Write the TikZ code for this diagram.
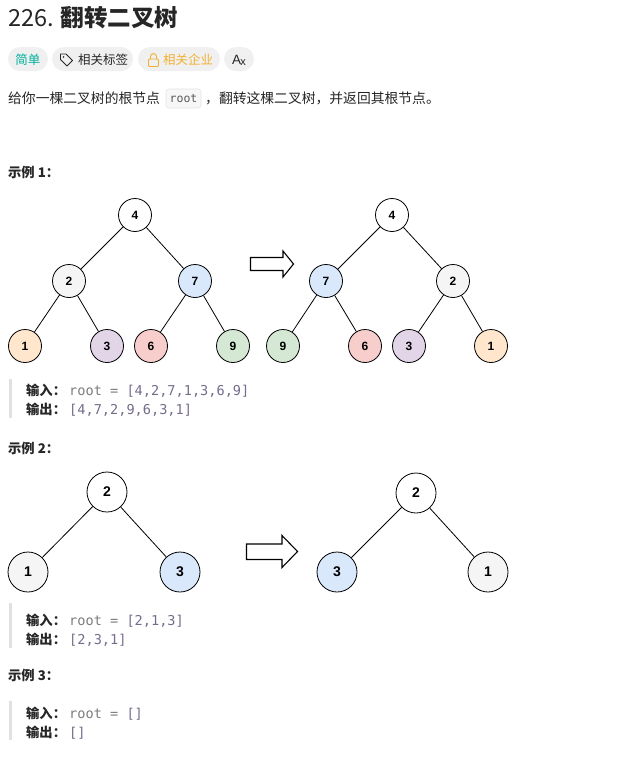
\documentclass[tikz,border=0pt]{standalone}
\usepackage{fontspec}
\setmainfont{Noto Sans CJK SC}
\newfontfamily\lat{Liberation Sans}
\newfontfamily\monof{DejaVu Sans Mono}
\definecolor{pillbg}{RGB}{240,240,240}
\definecolor{easyc}{RGB}{0,175,155}
\definecolor{orangec}{RGB}{240,176,48}
\definecolor{cgray}{RGB}{245,245,245}
\definecolor{cblue}{RGB}{218,232,252}
\definecolor{corange}{RGB}{255,230,204}
\definecolor{cpurple}{RGB}{225,213,231}
\definecolor{cred}{RGB}{248,206,204}
\definecolor{cgreen}{RGB}{213,232,212}
\definecolor{txt}{RGB}{38,38,38}
\definecolor{codegray}{RGB}{125,125,125}
\definecolor{arrc}{RGB}{118,108,140}
\definecolor{barc}{RGB}{225,225,225}
\definecolor{codebg}{RGB}{247,247,248}
\definecolor{codeborder}{RGB}{228,228,230}
\tikzset{
  tn/.style={circle, draw=black, line width=0.8pt, minimum size=33pt, inner sep=0pt, font=\lat\bfseries\fontsize{12}{12}\selectfont},
  tnb/.style={circle, draw=black, line width=0.8pt, minimum size=40pt, inner sep=0pt, font=\lat\bfseries\fontsize{14}{14}\selectfont},
  edge/.style={line width=0.8pt, black},
  txtnode/.style={anchor=base west, inner sep=0pt, text=txt, font=\fontsize{13.8}{16}\selectfont},
  boldtxt/.style={anchor=base west, inner sep=0pt, text=txt, font=\bfseries\fontsize{13.3}{16}\selectfont},
  codetxt/.style={anchor=base west, inner sep=0pt, font=\monof\fontsize{13.6}{16}\selectfont},
  pill/.style={fill=pillbg, rounded corners=12pt, draw=none},
  bararea/.style={fill=barc, draw=none},
  blockarrow/.style={draw=black, fill=white, line width=1.1pt, line join=miter}
}
\begin{document}
\begin{tikzpicture}[x=1pt, y=-1pt]
\useasboundingbox[fill=white] (0,0) rectangle (622,758);

% title
\node[anchor=base west, inner sep=0pt, text=txt, font=\fontsize{23.5}{26}\selectfont] (title) at (8,26.5) {226. \textbf{翻转二叉树}};

% pills
\fill[pill] (8,47) rectangle (48,71);
\node[anchor=base, inner sep=0pt, text=easyc, font=\fontsize{12.5}{14}\selectfont] (easy) at (28,64) {简单};
\fill[pill] (52,47) rectangle (133,71);
\draw[line width=0.9pt, txt, line join=round] (60.5,54) -- (66,54) -- (72.5,60.5) -- (67,66) -- (60.5,59.5) -- cycle;
\fill[txt] (63.5,57) circle (0.9pt);
\node[anchor=base west, inner sep=0pt, text=txt, font=\fontsize{12.5}{14}\selectfont] (tags) at (78,64) {相关标签};
\fill[pill] (138,47) rectangle (220,71);
\draw[line width=0.9pt, orangec, rounded corners=1pt] (148.5,59) rectangle (158.5,66.5);
\draw[line width=0.9pt, orangec] (150.5,59) -- (150.5,56.5) arc (180:0:3pt) -- (156.5,59);
\node[anchor=base west, inner sep=0pt, text=orangec, font=\fontsize{12.5}{14}\selectfont] (comp) at (163,64) {相关企业};
\fill[pill] (224,47) rectangle (254,71);
\node[anchor=base, inner sep=0pt, text=txt, font=\lat\fontsize{13.5}{14}\selectfont] (ax) at (239,64.5) {A\kern-0.8pt\raisebox{-0.5pt}{\fontsize{11}{11}\selectfont x}};

% description
\node[txtnode] (desc1) at (8,103) {给你一棵二叉树的根节点};
\draw[fill=codebg, draw=codeborder, line width=0.6pt, rounded corners=3pt] (166,89) rectangle (201,108);
\node[anchor=base, inner sep=0pt, text=black!65, font=\monof\fontsize{11.5}{14}\selectfont] (rootcode) at (183.5,102) {root};
\node[txtnode] (desc2) at (205,103) {，翻转这棵二叉树，并返回其根节点。};

% example 1
\node[boldtxt] (ex1) at (8,177) {示例 1：};

\node[tn, fill=white] (a4) at (135,215) {4};
\node[tn, fill=cgray] (a2) at (69,281) {2};
\node[tn, fill=cblue] (a7) at (195,281) {7};
\node[tn, fill=corange] (a1) at (25,346) {1};
\node[tn, fill=cpurple] (a3) at (107,346) {3};
\node[tn, fill=cred] (a6) at (151,346) {6};
\node[tn, fill=cgreen] (a9) at (233,346) {9};
\draw[edge] (a4) -- (a2);
\draw[edge] (a4) -- (a7);
\draw[edge] (a2) -- (a1);
\draw[edge] (a2) -- (a3);
\draw[edge] (a7) -- (a6);
\draw[edge] (a7) -- (a9);

\draw[blockarrow] (250.5,257.5) -- (283,257.5) -- (283,251) -- (293.5,264) -- (283,277) -- (283,270.5) -- (250.5,270.5) -- cycle;

\node[tn, fill=white] (b4) at (392,215) {4};
\node[tn, fill=cblue] (b7) at (326,281) {7};
\node[tn, fill=cgray] (b2) at (453,281) {2};
\node[tn, fill=cgreen] (b9) at (283,346) {9};
\node[tn, fill=cred] (b6) at (365,346) {6};
\node[tn, fill=cpurple] (b3) at (409,346) {3};
\node[tn, fill=corange] (b1) at (491,346) {1};
\draw[edge] (b4) -- (b7);
\draw[edge] (b4) -- (b2);
\draw[edge] (b7) -- (b9);
\draw[edge] (b7) -- (b6);
\draw[edge] (b2) -- (b3);
\draw[edge] (b2) -- (b1);

\fill[bararea] (9,379) rectangle (12,418);
\node[boldtxt] (in1) at (26,395) {输入：};
\node[codetxt] (in1c) at (69,395) {\textcolor{codegray}{root = }\textcolor{arrc}{[4,2,7,1,3,6,9]}};
\node[boldtxt] (out1) at (26,414) {输出：};
\node[codetxt] (out1c) at (69,414) {\textcolor{arrc}{[4,7,2,9,6,3,1]}};

% example 2
\node[boldtxt] (ex2) at (8,453) {示例 2：};

\node[tnb, fill=white] (c2) at (107,492) {2};
\node[tnb, fill=cgray] (c1) at (28,572) {1};
\node[tnb, fill=cblue] (c3) at (180,572) {3};
\draw[edge] (c2) -- (c1);
\draw[edge] (c2) -- (c3);

\draw[blockarrow] (246.5,544) -- (282,544) -- (282,535.5) -- (297.5,551.5) -- (282,567.5) -- (282,559.5) -- (246.5,559.5) -- cycle;

\node[tnb, fill=white] (d2) at (416,493) {2};
\node[tnb, fill=cblue] (d3) at (337,572) {3};
\node[tnb, fill=cgray] (d1) at (488,572) {1};
\draw[edge] (d2) -- (d3);
\draw[edge] (d2) -- (d1);

\fill[bararea] (9,603) rectangle (12,648);
\node[boldtxt] (in2) at (26,625) {输入：};
\node[codetxt] (in2c) at (69,625) {\textcolor{codegray}{root = }\textcolor{arrc}{[2,1,3]}};
\node[boldtxt] (out2) at (26,644) {输出：};
\node[codetxt] (out2c) at (69,644) {\textcolor{arrc}{[2,3,1]}};

% example 3
\node[boldtxt] (ex3) at (8,680) {示例 3：};
\fill[bararea] (9,701) rectangle (12,740);
\node[boldtxt] (in3) at (26,718) {输入：};
\node[codetxt] (in3c) at (69,718) {\textcolor{codegray}{root = }\textcolor{arrc}{[]}};
\node[boldtxt] (out3) at (26,737) {输出：};
\node[codetxt] (out3c) at (69,737) {\textcolor{arrc}{[]}};
\end{tikzpicture}
\end{document}
